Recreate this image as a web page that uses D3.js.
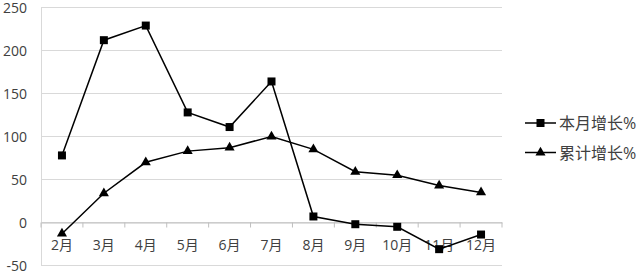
<!DOCTYPE html>
<html><head><meta charset="utf-8">
<script src="https://cdn.jsdelivr.net/npm/d3@7"></script>
<style>body{margin:0;background:#fff}</style>
</head><body><svg id="c" width="641" height="273"></svg>
<script>
const categories = ["2月","3月","4月","5月","6月","7月","8月","9月","10月","11月","12月"];
const monthly = [78,212,229,128,111,164,7,-2,-5,-31,-14];
const cumulative = [-13,34,70,83,87,100,85,59,55,43,35];
const yTicks = [-50,0,50,100,150,200,250];
const seriesNames = ["本月增长%","累计增长%"];

const svg = d3.select("#c");
const font = "'Open Sans','Noto Sans CJK SC',sans-serif";
const textColor = "#404040";
const x = d3.scaleBand().domain(categories).range([41,502]);
const y = d3.scaleLinear().domain([-50,250]).range([265.5,7.5]);
const cx = d => x(d) + x.bandwidth()/2;

// gridlines
svg.append("g").selectAll("line").data(yTicks).join("line")
  .attr("x1",41).attr("x2",502).attr("y1",d=>y(d)).attr("y2",d=>y(d))
  .attr("stroke","#d9d9d9").attr("stroke-width",1);
// left axis line
svg.append("line").attr("x1",41.5).attr("x2",41.5).attr("y1",y(250)).attr("y2",y(-50)).attr("stroke","#d9d9d9");
// y labels
svg.append("g").selectAll("text").data(yTicks).join("text")
  .attr("x",27).attr("y",d=>y(d)+5).attr("text-anchor","end")
  .attr("font-family",font).attr("font-size",14).attr("fill",textColor).text(d=>d);
// x axis at zero
const xa = svg.append("g").attr("transform",`translate(0,${y(0)})`)
  .call(d3.axisBottom(x).tickSizeInner(0).tickSizeOuter(0).tickFormat(""));
xa.select(".domain").attr("stroke","#bfbfbf");
// category boundary ticks
const bounds = categories.map(c=>x(c)).concat([x.range()[1]]);
svg.append("g").selectAll("line").data(bounds).join("line")
  .attr("x1",d=>d).attr("x2",d=>d).attr("y1",y(0)).attr("y2",y(0)+5).attr("stroke","#bfbfbf");
svg.append("g").selectAll("text").data(categories).join("text")
  .attr("x",d=>cx(d)).attr("y",250).attr("text-anchor","middle")
  .attr("font-family",font).attr("font-size",14).attr("fill",textColor).text(d=>d);

const line = d3.line().x((d,i)=>cx(categories[i])).y(d=>y(d));
svg.append("path").datum(monthly).attr("d",line).attr("fill","none").attr("stroke","#000").attr("stroke-width",1.5);
svg.append("path").datum(cumulative).attr("d",line).attr("fill","none").attr("stroke","#000").attr("stroke-width",1.5);

const sq = d3.symbol().type(d3.symbolSquare).size(64);
const tri = d3.symbol().type(d3.symbolTriangle).size(44);
svg.append("g").selectAll("path").data(monthly).join("path")
  .attr("d",sq).attr("transform",(d,i)=>`translate(${cx(categories[i])},${y(d)})`).attr("fill","#000");
svg.append("g").selectAll("path").data(cumulative).join("path")
  .attr("d",tri).attr("transform",(d,i)=>`translate(${cx(categories[i])},${y(d)})`).attr("fill","#000");

// legend
const ly = [123,152.5];
const syms = [sq, tri];
seriesNames.forEach((n,i)=>{
  svg.append("line").attr("x1",525).attr("x2",556).attr("y1",ly[i]).attr("y2",ly[i]).attr("stroke","#000").attr("stroke-width",1.5);
  svg.append("path").attr("d",syms[i]).attr("transform",`translate(540.5,${ly[i]})`).attr("fill","#000");
  svg.append("text").attr("x",559).attr("y",ly[i]+6)
    .attr("font-family",font).attr("font-size",16).attr("fill",textColor).text(n);
});
</script></body></html>
